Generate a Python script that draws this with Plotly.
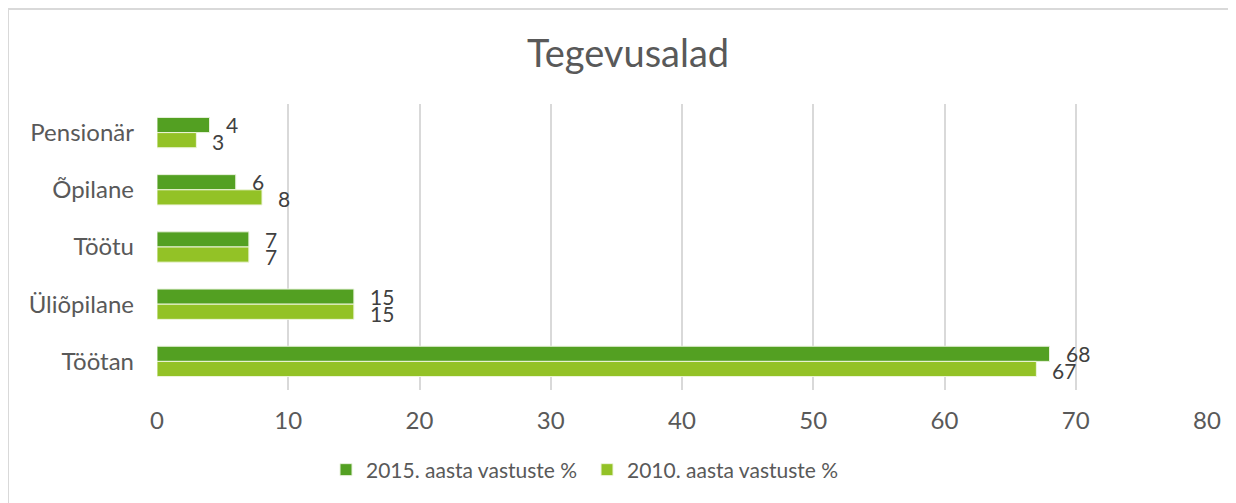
import plotly.graph_objects as go

categories = ["Pensionär", "Õpilane", "Töötu", "Üliõpilane", "Töötan"]
values_2015 = [4, 6, 7, 15, 68]
values_2010 = [3, 8, 7, 15, 67]
series_names = ["2015. aasta vastuste %", "2010. aasta vastuste %"]
x_ticks = [0, 10, 20, 30, 40, 50, 60, 70, 80]

FONT = "Lato"
TXT = "#595959"
DARK = "#53a022"
LIGHT = "#93c226"

# page body has an 8px margin; offsets below compensate for it
OFF = 8
L, R, T, B = 157 - OFF, 1236 - (1207 - OFF), 104 - OFF, 503 - (390 - OFF)
PW, PH = 1050, 286

fig = go.Figure()
fig.add_trace(go.Bar(y=categories, x=values_2015, orientation="h", name=series_names[0],
                     marker=dict(color=DARK, line=dict(color="#e8f2dc", width=1))))
fig.add_trace(go.Bar(y=categories, x=values_2010, orientation="h", name=series_names[1],
                     marker=dict(color=LIGHT, line=dict(color="#eef5dc", width=1))))

ann = []
for c, v in zip(categories, values_2015):
    ann.append(dict(x=v, y=c, xref="x", yref="y", text=str(v), showarrow=False,
                    xanchor="left", yanchor="middle", xshift=14, yshift=8,
                    font=dict(family=FONT, size=21, color="#404040")))
for c, v in zip(categories, values_2010):
    ann.append(dict(x=v, y=c, xref="x", yref="y", text=str(v), showarrow=False,
                    xanchor="left", yanchor="middle", xshift=14, yshift=-9,
                    font=dict(family=FONT, size=21, color="#404040")))

bx = (8 - 157) / PW
by = 1 + (104 - 9) / PH
shapes = [
    dict(type="line", xref="paper", yref="paper", x0=bx, x1=bx, y0=by, y1=-0.6,
         line=dict(color="#d9d9d9", width=2)),
    dict(type="line", xref="paper", yref="paper", x0=bx, x1=1.1, y0=by, y1=by,
         line=dict(color="#d9d9d9", width=2)),
]

fig.update_layout(
    width=1236, height=503,
    margin=dict(l=L, r=R, t=T, b=B),
    paper_bgcolor="white", plot_bgcolor="white",
    font=dict(family=FONT, color=TXT, size=22),
    title=dict(text="Tegevusalad", x=(628 - 157) / PW, xref="paper", xanchor="center",
               y=1 - (54 - OFF) / 503, yanchor="middle", font=dict(family=FONT, size=38, color=TXT)),
    barmode="group", bargap=0.47, bargroupgap=0,
    xaxis=dict(range=[0, 80], tickvals=x_ticks, showgrid=True, gridcolor="#d9d9d9", gridwidth=2,
               zeroline=False, showline=False, ticks="", tickfont=dict(size=24, color=TXT),
               ticklabelstandoff=14),
    yaxis=dict(autorange="reversed", showgrid=False, showline=False, ticks="",
               tickfont=dict(size=24, color=TXT), ticklabelstandoff=22),
    legend=dict(orientation="h", x=(326 - 157) / PW, xanchor="left", y=-(470 - 390) / PH,
                yanchor="middle", font=dict(size=21, color=TXT), entrywidth=216,
                itemwidth=30),
    annotations=ann, shapes=shapes, showlegend=True,
)

fig.write_html("out.html")
